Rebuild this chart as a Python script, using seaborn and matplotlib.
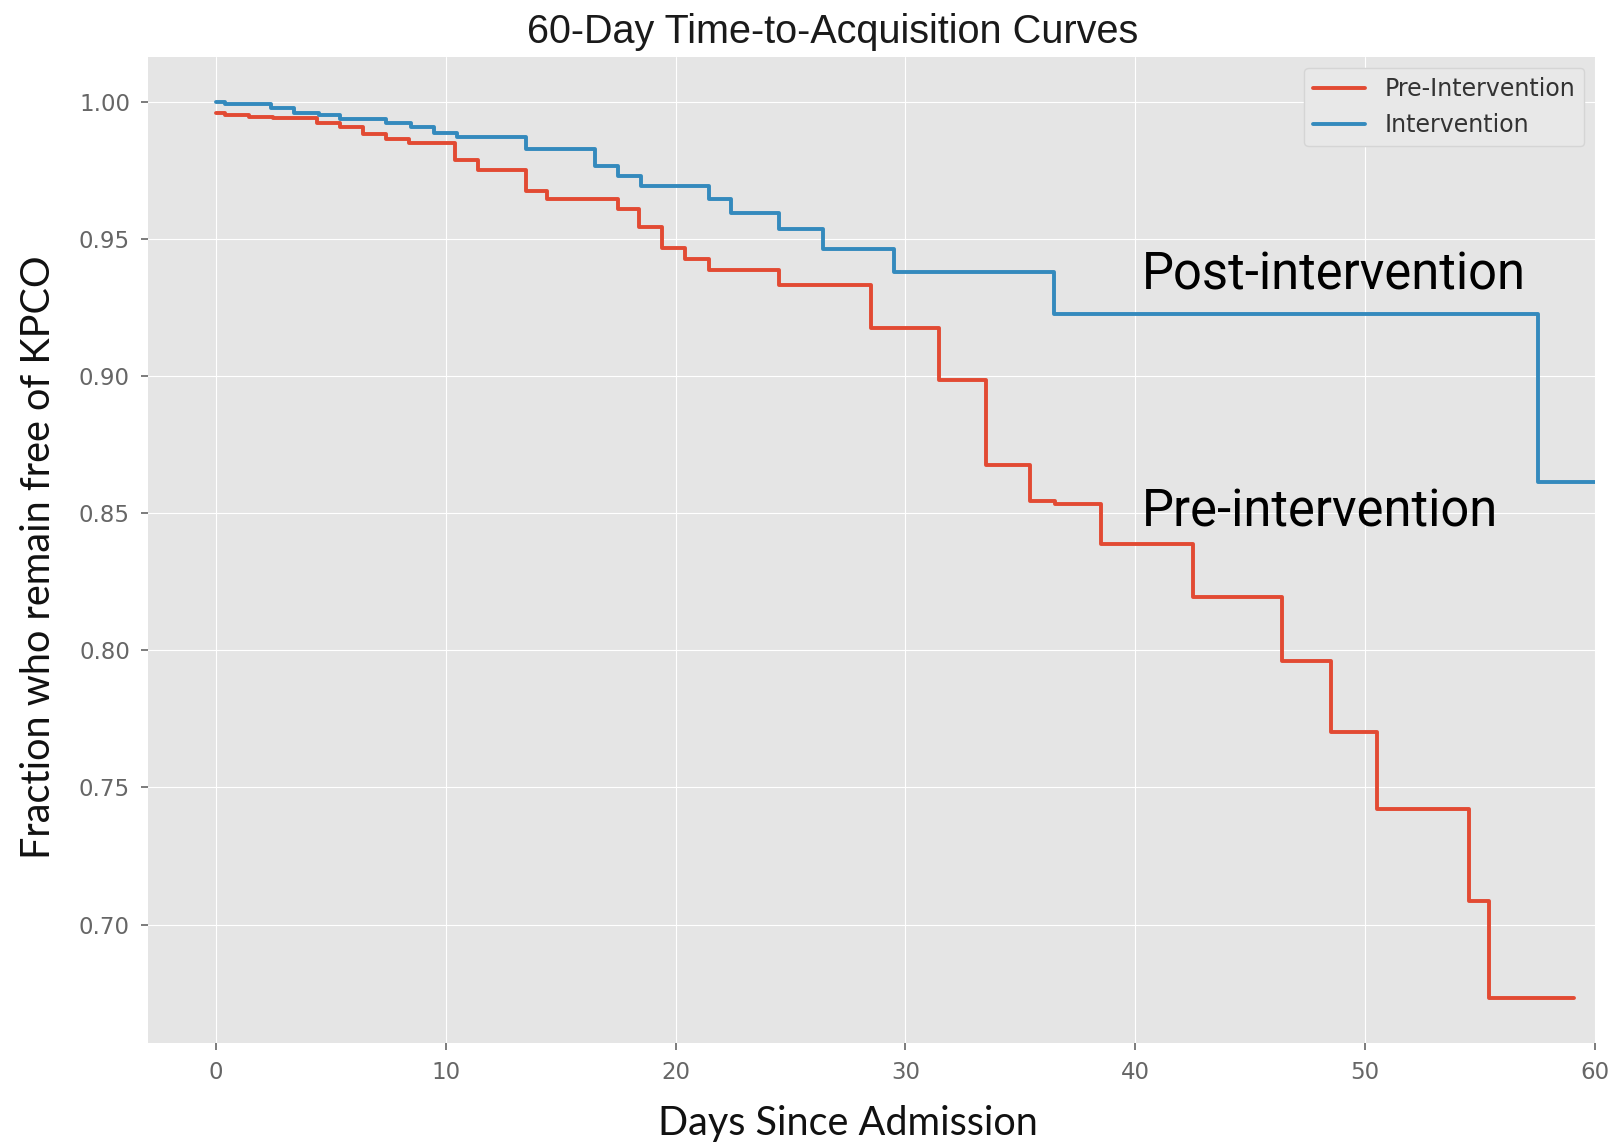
import matplotlib
matplotlib.use("Agg")
import matplotlib.pyplot as plt
import numpy as np
import pandas as pd
import seaborn as sns

# ---- data ----
pre_days = [0, 0.4, 1.45, 2.5, 4.4, 5.4, 6.4, 7.4, 8.4, 10.4, 11.4, 13.5, 14.4,
            17.5, 18.4, 19.4, 20.4, 21.45, 24.5, 28.5, 31.45, 33.5, 35.4, 36.5,
            38.5, 42.5, 46.4, 48.5, 50.5, 54.5, 55.4, 59.1]
pre_surv = [0.9958, 0.9952, 0.9946, 0.9940, 0.9924, 0.9908, 0.9884, 0.9863, 0.9851,
            0.9788, 0.9752, 0.9676, 0.9645, 0.9609, 0.9542, 0.9466, 0.9427, 0.9385,
            0.9333, 0.9175, 0.8986, 0.8674, 0.8545, 0.8532, 0.8387, 0.8195, 0.7959,
            0.7703, 0.7421, 0.7085, 0.6731, 0.6731]

int_days = [0, 0.4, 2.4, 3.4, 4.5, 5.4, 7.4, 8.5, 9.5, 10.5, 13.5, 16.5, 17.5,
            18.5, 21.45, 22.4, 24.5, 26.4, 29.5, 36.45, 57.5, 60]
int_surv = [1.000, 0.9990, 0.9978, 0.9960, 0.9952, 0.9936, 0.9921, 0.9909, 0.9887,
            0.9872, 0.9827, 0.9764, 0.9730, 0.9691, 0.9645, 0.9593, 0.9536, 0.9464,
            0.9379, 0.9225, 0.8613, 0.8613]

series_names = ["Pre-Intervention", "Intervention"]
series_colors = ["#E24A33", "#348ABD"]
x_ticks = [0, 10, 20, 30, 40, 50, 60]
y_ticks = [0.70, 0.75, 0.80, 0.85, 0.90, 0.95, 1.00]

df = pd.concat([
    pd.DataFrame({"day": pre_days, "surv": pre_surv, "group": series_names[0]}),
    pd.DataFrame({"day": int_days, "surv": int_surv, "group": series_names[1]}),
], ignore_index=True)

# ---- style ----
sns.set_style("darkgrid", rc={
    "axes.facecolor": "#E5E5E5",
    "grid.color": "white",
    "grid.linewidth": 2.0,
    "xtick.bottom": True,
    "ytick.left": True,
    "xtick.color": "#666666",
    "ytick.color": "#666666",
})
plt.rcParams["font.family"] = ["DejaVu Sans"]

W, H = 1612, 1142
fig = plt.figure(figsize=(W / 100, H / 100), dpi=100)
ax_l, ax_r, ax_t, ax_b = 148, 1595, 57, 1043
ax = fig.add_axes([ax_l / W, 1 - ax_b / H, (ax_r - ax_l) / W, (ax_b - ax_t) / H])

sns.lineplot(data=df, x="day", y="surv", hue="group", hue_order=series_names,
             palette=series_colors, drawstyle="steps-post", estimator=None,
             linewidth=2.8, legend=False, ax=ax)

ax.set_xlim(-2.95, 59.95)
ax.set_ylim(0.6568, 1.0163)
ax.set_xticks(x_ticks)
ax.set_yticks(y_ticks)
ax.set_yticklabels([f"{v:.2f}" for v in y_ticks])
ax.tick_params(axis="both", labelsize=16.5, colors="#666666", length=5, width=1.2,
               direction="out", pad=8)
for s in ax.spines.values():
    s.set_visible(False)

# legend
handles = ax.get_lines()[:2]
leg = ax.legend(handles, series_names, loc="upper right", fontsize=17,
                handlelength=2.2, frameon=True, facecolor="#E8E8E8",
                edgecolor="#D5D5D5", framealpha=1.0, borderaxespad=0.45)
for t in leg.get_texts():
    t.set_color("#333333")

# axis labels
ax.set_xlabel("Days Since Admission", fontsize=28.5, family=["Lato", "DejaVu Sans"],
              color="#111111")
ax.xaxis.label.set_va("baseline")
ax.xaxis.set_label_coords((848 - ax_l) / (ax_r - ax_l), (ax_b - 1135) / (ax_b - ax_t))
ax.set_ylabel("Fraction who remain free of KPCO", fontsize=28.5,
              family=["Lato", "DejaVu Sans"], color="#111111")
ax.yaxis.label.set_va("center")
ax.yaxis.set_label_coords((38 - ax_l) / (ax_r - ax_l), (ax_b - 557) / (ax_b - ax_t))

# title
fig.text(833 / W, 1 - 43 / H, "60-Day Time-to-Acquisition Curves", ha="center",
         va="baseline", fontsize=28.5, family=["Liberation Sans", "DejaVu Sans"],
         color="#1a1a1a")

# annotations
ax.text(40.27, 0.9314, "Post-intervention", fontsize=36.5, weight="normal",
        family=["Roboto", "DejaVu Sans"], color="black", va="baseline", ha="left")
ax.text(40.27, 0.8453, "Pre-intervention", fontsize=36.5, weight="normal",
        family=["Roboto", "DejaVu Sans"], color="black", va="baseline", ha="left")

fig.savefig("out.png", dpi=100, facecolor="white")
